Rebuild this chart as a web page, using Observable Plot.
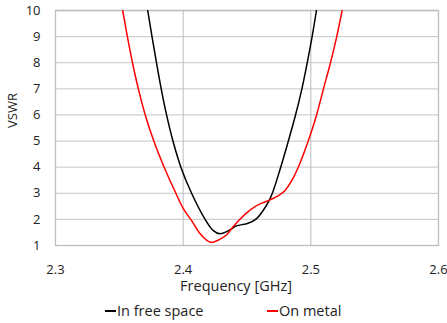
<!DOCTYPE html>
<html>
<head>
<meta charset="utf-8">
<script src="https://cdn.jsdelivr.net/npm/d3@7"></script>
<script src="https://cdn.jsdelivr.net/npm/@observablehq/plot@0.6"></script>
<style>
  html, body { margin: 0; padding: 0; background: #fff; }
  body { width: 447px; height: 323px; overflow: hidden; font-family: "Open Sans", sans-serif; }
  #legend { position: relative; height: 23px; font-size: 14.5px; color: #222; }
  #legend .item { position: absolute; top: 1px; white-space: nowrap; }
  #legend .sw { display: inline-block; width: 11px; height: 1.5px; vertical-align: middle; margin-right: 1px; position: relative; top: -1px; }
</style>
</head>
<body>
<div id="chart"></div>
<div id="legend"></div>
<script>
const seriesNames = ["In free space", "On metal"];
const seriesColors = ["#000000", "#ff0000"];

const freqFree = [2.3722, 2.3756, 2.3791, 2.3828, 2.3870, 2.3920, 2.3982, 2.4066, 2.4172, 2.4234, 2.4287, 2.4352, 2.4378, 2.4417, 2.4508, 2.4573, 2.4625, 2.4672, 2.4700, 2.4755, 2.4815, 2.4875, 2.4930, 2.4972, 2.5010, 2.5044];
const vswrFree = [10, 9, 8, 7, 6, 5, 4, 3, 2, 1.58, 1.45, 1.56, 1.63, 1.75, 1.85, 2.02, 2.33, 2.71, 3.02, 3.85, 4.85, 5.9, 7, 8, 9, 10];

const freqMetal = [2.3526, 2.3563, 2.3603, 2.3649, 2.3703, 2.3770, 2.3851, 2.3943, 2.4000, 2.4066, 2.4130, 2.4175, 2.4215, 2.4273, 2.4339, 2.4378, 2.4430, 2.4495, 2.4560, 2.4620, 2.4672, 2.4755, 2.4800, 2.4850, 2.4900, 2.4950, 2.5000, 2.5045, 2.5099, 2.5154, 2.5203, 2.5245];
const vswrMetal = [10, 9, 8, 7, 6, 5, 4, 3, 2.42, 1.95, 1.47, 1.24, 1.12, 1.20, 1.40, 1.64, 1.93, 2.24, 2.48, 2.63, 2.73, 2.94, 3.12, 3.48, 3.98, 4.6, 5.3, 6, 7, 8, 9, 10];

const xTicks = [2.3, 2.4, 2.5, 2.6];
const xGrid = [2.4, 2.5];
const yTicks = [1, 2, 3, 4, 5, 6, 7, 8, 9, 10];
const xLabel = "Frequency [GHz]";
const yLabel = "VSWR";

const free = freqFree.map((f, i) => ({f, v: vswrFree[i]}));
const metal = freqMetal.map((f, i) => ({f, v: vswrMetal[i]}));

const chart = Plot.plot({
  width: 447,
  height: 300,
  marginTop: 10,
  marginLeft: 55,
  marginRight: 9,
  marginBottom: 55,
  style: {fontFamily: "'Open Sans', sans-serif", fontSize: "13px", color: "#222", background: "#fff"},
  x: {domain: [2.3, 2.6], ticks: xTicks, tickFormat: d3.format(".1f"), tickSize: 0, tickPadding: 19, label: null},
  y: {domain: [1, 10], ticks: yTicks, tickSize: 0, tickPadding: 15, label: null},
  marks: [
    Plot.ruleY(yTicks.slice(1), {stroke: "#d0d0d0", strokeWidth: 1.3}),
    Plot.ruleX(xGrid, {stroke: "#bdbdbd", strokeWidth: 1}),
    Plot.frame({stroke: "#bdbdbd", strokeWidth: 1.3}),
    Plot.line(free, {x: "f", y: "v", stroke: seriesColors[0], strokeWidth: 1.5, curve: "catmull-rom", clip: true}),
    Plot.line(metal, {x: "f", y: "v", stroke: seriesColors[1], strokeWidth: 1.5, curve: "catmull-rom", clip: true}),
    Plot.text([xLabel], {frameAnchor: "bottom", dx: -11, dy: 45, fill: "#222", fontSize: 14.5}),
    Plot.text([yLabel], {frameAnchor: "left", rotate: -90, dx: -43, fill: "#222", fontSize: 13})
  ]
});
document.getElementById("chart").appendChild(chart);

const legend = document.getElementById("legend");
const positions = [105, 267];
seriesNames.forEach((name, i) => {
  const item = document.createElement("span");
  item.className = "item";
  item.style.left = positions[i] + "px";
  const sw = document.createElement("span");
  sw.className = "sw";
  sw.style.background = seriesColors[i];
  item.appendChild(sw);
  item.appendChild(document.createTextNode(name));
  legend.appendChild(item);
});
</script>
</body>
</html>
